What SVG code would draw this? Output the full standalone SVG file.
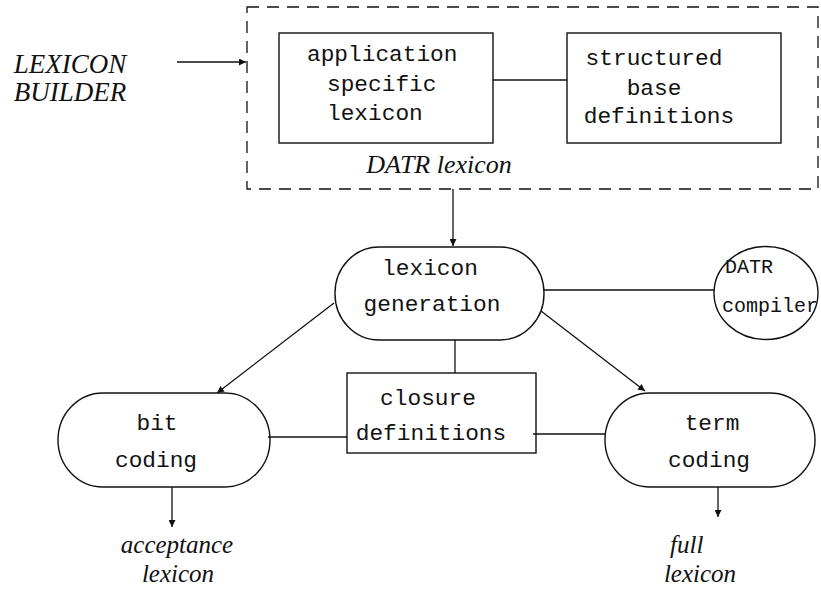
<svg xmlns="http://www.w3.org/2000/svg" width="821" height="589" viewBox="0 0 821 589">
<defs>
<style>
.shape{fill:#fff;stroke:#111;stroke-width:1.4}
.line{fill:none;stroke:#111;stroke-width:1.3}
.mono{font-family:"Liberation Mono","DejaVu Sans Mono",monospace;font-size:22.8px;fill:#111}
.ital{font-family:"Liberation Serif","DejaVu Serif",serif;font-style:italic;font-size:25px;fill:#111}
</style>
<marker id="arr" viewBox="0 0 10 10" refX="10" refY="5" markerWidth="11" markerHeight="7" markerUnits="userSpaceOnUse" orient="auto">
<path d="M0,0 L10,5 L0,10 z" fill="#111"/>
</marker>
</defs>
<rect width="821" height="589" fill="#fff"/>

<g id="datr-lexicon">
<rect x="247" y="7" width="571" height="182" fill="none" stroke="#111" stroke-width="1.3" stroke-dasharray="12 8"/>
<text class="ital" x="439" y="173" text-anchor="middle" style="font-size:26px">DATR lexicon</text>
</g>

<g id="lexicon-builder">
<text class="ital" x="70" y="73" text-anchor="middle" style="font-size:27px">LEXICON</text>
<text class="ital" x="70" y="101" text-anchor="middle" style="font-size:27px">BUILDER</text>
</g>

<g id="app-lexicon">
<rect class="shape" x="279" y="33" width="214" height="110"/>
<text class="mono" x="307" y="61">application</text>
<text class="mono" x="327" y="91">specific</text>
<text class="mono" x="327" y="120">lexicon</text>
</g>

<g id="structured-base">
<rect class="shape" x="567" y="33" width="214" height="110"/>
<text class="mono" x="654" y="65" text-anchor="middle">structured</text>
<text class="mono" x="654" y="95" text-anchor="middle">base</text>
<text class="mono" x="659" y="123" text-anchor="middle">definitions</text>
</g>

<g id="lexicon-generation">
<rect class="shape" x="335" y="247" width="209" height="93" rx="44" ry="46"/>
<text class="mono" x="430" y="275" text-anchor="middle">lexicon</text>
<text class="mono" x="432" y="311" text-anchor="middle">generation</text>
</g>

<g id="datr-compiler">
<ellipse class="shape" cx="766" cy="293" rx="52" ry="46.5"/>
<text class="mono" x="725" y="273" style="font-size:20px">DATR</text>
<text class="mono" x="722" y="312" style="font-size:20px">compiler</text>
</g>

<g id="closure-definitions">
<rect class="shape" x="347" y="373" width="189" height="80"/>
<text class="mono" x="428" y="405" text-anchor="middle">closure</text>
<text class="mono" x="431" y="440" text-anchor="middle">definitions</text>
</g>

<g id="bit-coding">
<rect class="shape" x="58" y="393" width="212" height="94" rx="45" ry="47"/>
<text class="mono" x="157" y="430" text-anchor="middle">bit</text>
<text class="mono" x="156" y="467" text-anchor="middle">coding</text>
</g>

<g id="term-coding">
<rect class="shape" x="605" y="393" width="210" height="94" rx="45" ry="47"/>
<text class="mono" x="712" y="430" text-anchor="middle">term</text>
<text class="mono" x="709" y="467" text-anchor="middle">coding</text>
</g>

<g id="acceptance-lexicon">
<text class="ital" x="177" y="553" text-anchor="middle">acceptance</text>
<text class="ital" x="178" y="582" text-anchor="middle">lexicon</text>
</g>

<g id="full-lexicon">
<text class="ital" x="670" y="553">full</text>
<text class="ital" x="700" y="582" text-anchor="middle">lexicon</text>
</g>

<g id="connectors">
<line class="line" x1="177" y1="62" x2="246" y2="62" marker-end="url(#arr)"/>
<line class="line" x1="493" y1="80" x2="567" y2="80"/>
<line class="line" x1="453" y1="189" x2="453" y2="246" marker-end="url(#arr)"/>
<line class="line" x1="544" y1="290" x2="714" y2="290"/>
<line class="line" x1="455" y1="340" x2="455" y2="373"/>
<line class="line" x1="334" y1="303" x2="217" y2="393" marker-end="url(#arr)"/>
<line class="line" x1="541" y1="311" x2="645" y2="391" marker-end="url(#arr)"/>
<line class="line" x1="268" y1="437" x2="347" y2="437"/>
<line class="line" x1="533" y1="434" x2="606" y2="434"/>
<line class="line" x1="172" y1="487" x2="172" y2="527" marker-end="url(#arr)"/>
<line class="line" x1="718" y1="487" x2="718" y2="517" marker-end="url(#arr)"/>
</g>
</svg>
